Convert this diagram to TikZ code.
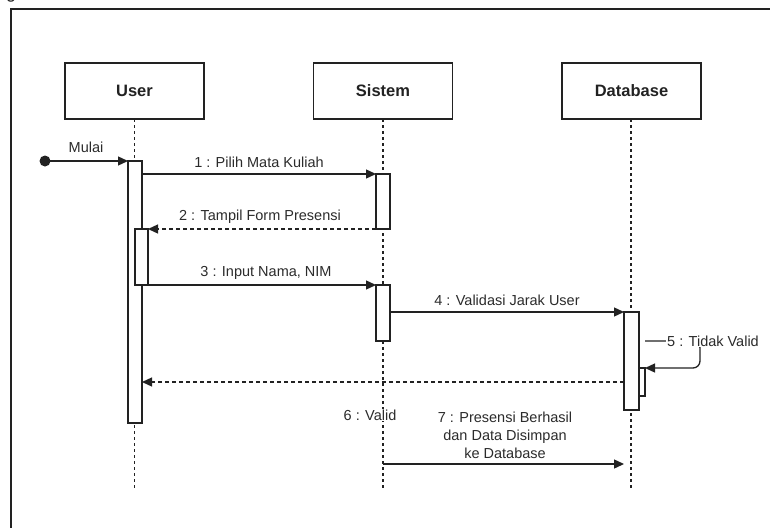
\documentclass[tikz,border=0pt]{standalone}
\usepackage{fontspec}
\setmainfont{Liberation Sans}
\usetikzlibrary{arrows.meta}
\definecolor{ink}{HTML}{222222}
\definecolor{txt}{HTML}{2B2B2B}

\begin{document}
\begin{tikzpicture}[x=1pt,y=-1pt,
  every node/.style={inner sep=0pt, outer sep=0pt},
  head/.style={draw=ink, line width=1.3pt, minimum width=139pt, minimum height=56pt,
               font=\fontsize{16.5}{20}\selectfont\bfseries, text=ink},
  lifeline/.style={draw=ink, line width=1.2pt, dash pattern=on 2.5pt off 3.5pt},
  actbar/.style={draw=ink, line width=1.2pt, fill=white, anchor=north west},
  msg/.style={draw=ink, line width=1.3pt, -{Triangle[length=10pt,width=9pt]}},
  reply/.style={msg, dash pattern=on 4pt off 3pt},
  lbl/.style={font=\fontsize{14.5}{18}\selectfont, text=txt, align=center},
]
\useasboundingbox (0,0) rectangle (770,527);

% outer frame and the caption cut by the page edge
\draw[ink, line width=1.5pt] (11,535) -- (11,9) -- (780,9);
\node[font=\fontsize{18}{22}\selectfont, text=ink, anchor=base west] (cap) at (6,-1.5) {g};

% participants
\node[head] (user) at (134.5,91) {User};
\node[head] (sys) at (383,91) {Sistem};
\node[head] (db) at (631.5,91) {Database};

% lifelines
\coordinate (uend) at (134.5,488);
\coordinate (send) at (383,488);
\coordinate (dend) at (631,488);
\draw[lifeline] (user.south) -- (uend);
\draw[lifeline] (sys.south) -- (send);
\draw[lifeline] (631,119) -- (dend);

% activation bars
\node[actbar, minimum width=14pt, minimum height=262pt] (ua) at (128,161) {};
\node[actbar, minimum width=13pt, minimum height=56pt] (ub) at (135,229) {};
\node[actbar, minimum width=14pt, minimum height=55pt] (sa) at (376,174) {};
\node[actbar, minimum width=14pt, minimum height=56pt] (sb) at (376,285) {};
\node[actbar, minimum width=15pt, minimum height=98pt] (da) at (624,312) {};
\node[actbar, minimum width=6pt, minimum height=28pt] (dn) at (639,368) {};

% start
\coordinate (start) at (45,161);
\fill[ink] (start) circle (5.5);
\draw[msg] (start) -- (ua.north west);
\node[lbl] (lmulai) at (86,147) {Mulai};

% 1
\draw[msg] (sa.north west -| ua.east) -- (sa.north west);
\node[lbl] (l1) at (259,162) {1 : Pilih Mata Kuliah};

% 2
\draw[reply] (sa.south west) -- (ub.north east);
\node[lbl] (l2) at (260,217) {2 : Tampil Form Presensi};

% 3
\draw[msg] (ub.south east) -- (sb.north west);
\node[lbl] (l3) at (266,273) {3 : Input Nama, NIM};

% 4
\draw[msg] (da.north west -| sb.east) -- (da.north west);
\node[lbl] (l4) at (507,300) {4 : Validasi Jarak User};

% 5 (self message)
\coordinate (s5a) at (645,341);
\coordinate (s5b) at (700,341);
\coordinate (s5c) at (700,368);
\draw[msg, rounded corners=7pt] (s5a) -- (s5b) -- (s5c) -- (dn.north east);
\node[lbl, fill=white, inner sep=1pt] (l5) at (713,341) {5 : Tidak Valid};

% return to user
\coordinate (r6) at (624,382);
\draw[reply] (r6) -- (r6 -| ua.east);
\node[lbl, fill=white, inner sep=1pt] (l6) at (370,415) {6 : Valid};

% 7
\coordinate (m7s) at (383,464);
\coordinate (m7e) at (624,464);
\draw[msg] (m7s) -- (m7e);
\node[lbl] (l7) at (505,435) {7 : Presensi Berhasil\\dan Data Disimpan\\ke Database};
\end{tikzpicture}
\end{document}
